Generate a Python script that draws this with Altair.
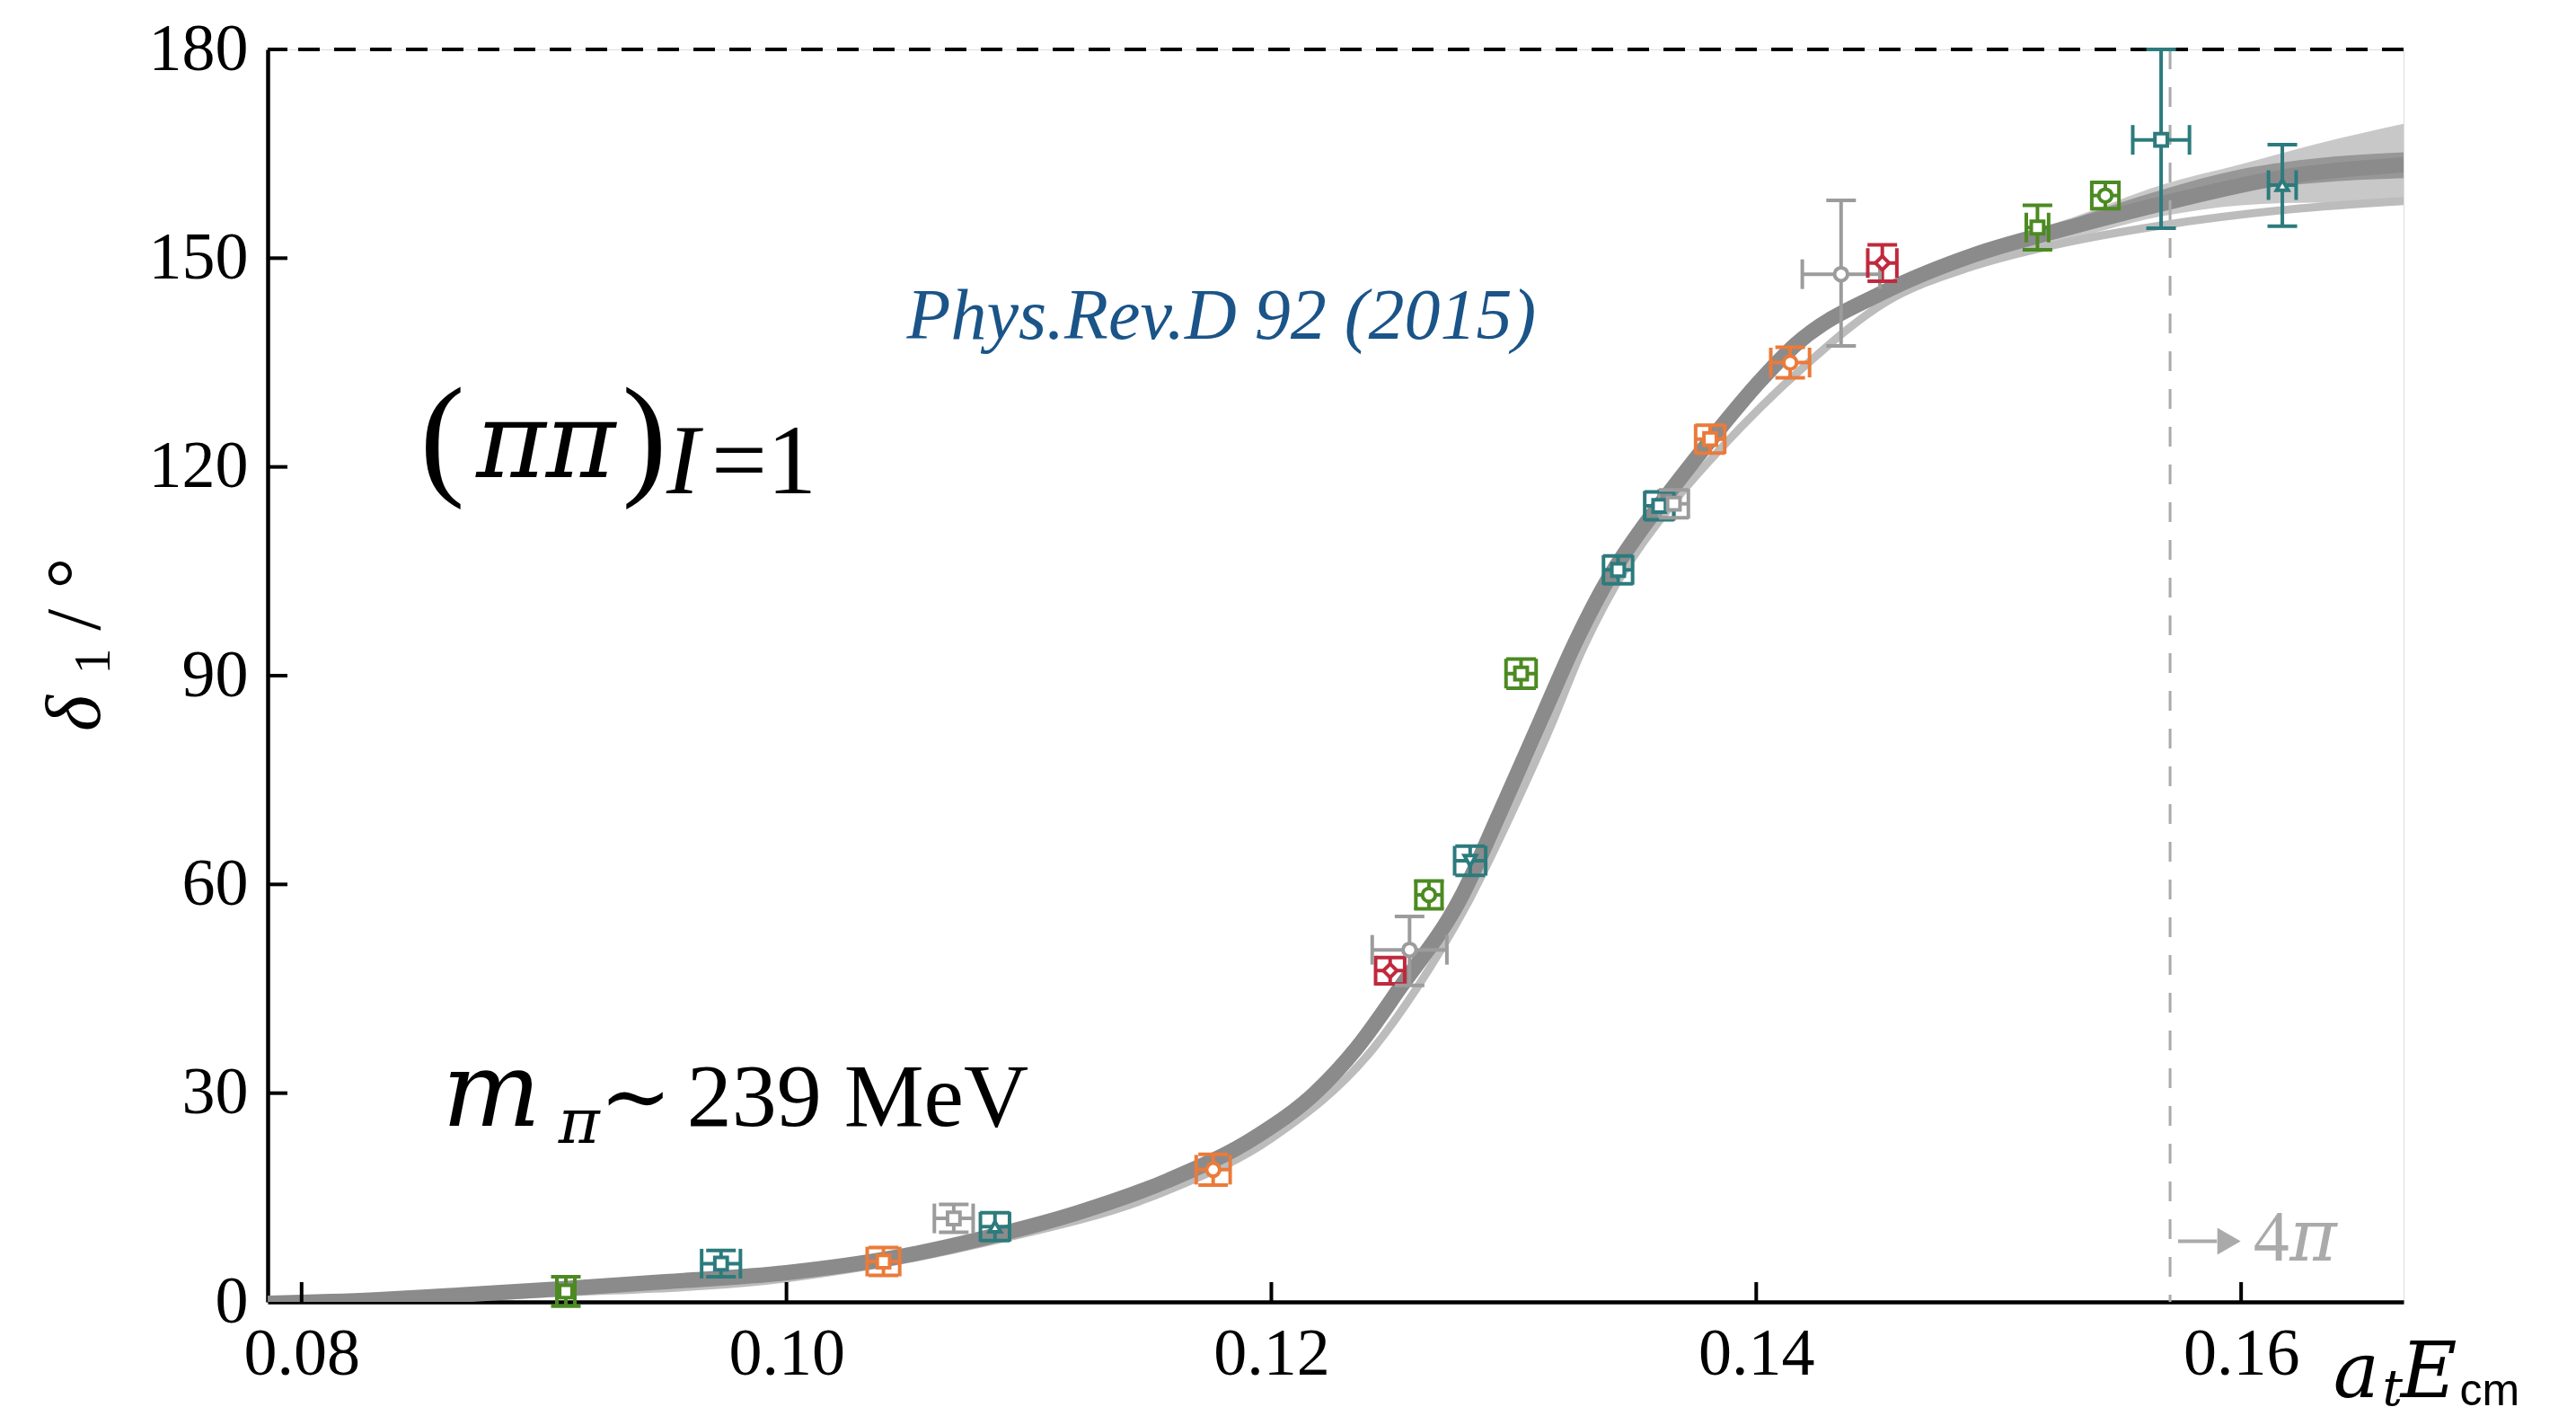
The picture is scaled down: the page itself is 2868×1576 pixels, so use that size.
import altair as alt
import pandas as pd

# ---------------- data ----------------
pt_x = [0.0909, 0.0973, 0.1040, 0.1069, 0.1086, 0.1176, 0.1249, 0.1257, 0.1265, 0.1282, 0.1303,
        0.1343, 0.1360, 0.1366, 0.1381, 0.1414, 0.1435, 0.1452, 0.1516, 0.1544, 0.1567, 0.1617]
pt_y = [1.5, 5.5, 5.8, 12.0, 10.8, 19.0, 47.6, 50.6, 58.5, 63.4, 90.3,
        105.2, 114.4, 114.7, 124.0, 135.0, 147.7, 149.3, 154.4, 159.0, 167.0, 160.5]
pt_xerr = [0.00037, 0.0008, 0.00067, 0.0008, 0.0006, 0.0007, 0.0006, 0.00154, 0.00054, 0.00064, 0.00062,
           0.0006, 0.0006, 0.0006, 0.0006, 0.0008, 0.0016, 0.0006, 0.00046, 0.00056, 0.00117, 0.00057]
pt_yerr_lo = [2.1, 1.9, 2.0, 2.0, 2.0, 2.2, 1.9, 5.1, 2.0, 2.1, 2.1,
              2.0, 2.0, 2.0, 2.0, 2.2, 10.3, 2.6, 3.2, 1.9, 12.7, 5.9]
pt_yerr_hi = [2.1, 1.9, 2.0, 2.0, 2.0, 2.2, 1.9, 4.8, 2.0, 2.1, 2.1,
              2.0, 2.0, 2.0, 2.0, 2.2, 10.6, 2.6, 3.2, 1.9, 13.0, 5.8]
pt_group = ["green", "teal", "orange", "gray", "teal", "orange", "red", "gray", "green", "teal", "green",
            "teal", "teal", "gray", "orange", "orange", "gray", "red", "green", "green", "teal", "teal"]
pt_shape = ["square", "square", "square", "square", "triangle-up", "circle", "diamond", "circle", "circle",
            "triangle-down", "square", "square", "square", "square", "square", "circle", "circle", "diamond",
            "square", "circle", "square", "triangle-up"]

fit_x = [0.0786, 0.0830, 0.0861, 0.0908, 0.0950, 0.1000, 0.1045, 0.1083, 0.1120, 0.1157, 0.1194, 0.1218,
         0.1235, 0.1253, 0.1278, 0.1295, 0.1311, 0.1325, 0.1338, 0.1353, 0.1363, 0.1381, 0.1402, 0.1416,
         0.1453, 0.1490, 0.1527, 0.1567, 0.1620, 0.1667]
fit_y = [-0.2, 0.3, 0.9, 1.9, 2.9, 4.2, 6.4, 9.3, 12.8, 17.4, 23.8, 30.0,
         36.4, 45.1, 58.0, 70.9, 83.5, 94.5, 103.3, 111.2, 115.8, 123.8, 132.5, 137.5,
         145.2, 150.5, 154.2, 157.8, 161.8, 163.4]

alt_x = [0.0786, 0.0900, 0.1000, 0.1083, 0.1157, 0.1200, 0.1242, 0.1260, 0.1282, 0.1300, 0.1315, 0.1328,
         0.1342, 0.1365, 0.1385, 0.1420, 0.1453, 0.1490, 0.1527, 0.1567, 0.1620, 0.1667]
alt_y = [-0.5, 1.2, 3.4, 8.6, 16.0, 23.5, 36.4, 45.1, 58.0, 70.9, 82.5, 93.5,
         103.0, 114.5, 122.5, 134.5, 143.6, 148.9, 152.2, 154.7, 157.0, 158.2]

fan_x = [0.1490, 0.1530, 0.1567, 0.1600, 0.1630, 0.1667]
fan_lo = [149.5, 152.8, 156.0, 157.6, 158.0, 157.8]
fan_hi = [151.6, 155.8, 160.5, 163.5, 166.3, 169.3]

core_x = [0.1530, 0.1567, 0.1600, 0.1630, 0.1667]
core_lo = [153.4, 156.8, 159.6, 160.8, 161.5]
core_hi = [155.6, 159.8, 162.8, 164.3, 165.2]

x_ticks = [0.08, 0.10, 0.12, 0.14, 0.16]
y_ticks = [0, 30, 60, 90, 120, 150, 180]
threshold_x = 0.15707

groups = ["green", "teal", "orange", "red", "gray"]
group_colors = ["#4c8a22", "#2c7b7d", "#ea7b3a", "#c0293d", "#9c9c9c"]
shape_sizes = {"square": 190, "circle": 210, "diamond": 230, "triangle-up": 170, "triangle-down": 170}

# ---------------- chart ----------------
W, H = 2378, 1394
SERIF = "Liberation Serif"
DSERIF = "DejaVu Serif"

xs = alt.Scale(domain=[0.0786, 0.1667], nice=False, zero=False)
ys = alt.Scale(domain=[0, 180], nice=False, zero=False)
xax = alt.Axis(values=x_ticks, format=".2f", title=None, ticks=False, tickSize=0, grid=False,
               domain=True, domainColor="black", domainWidth=4.5, labelFont=SERIF, labelFontSize=74,
               labelColor="black", labelPadding=22, labelFlush=False)
yax = alt.Axis(values=y_ticks, format="d", title=None, ticks=False, tickSize=0, grid=False,
               domain=True, domainColor="black", domainWidth=4.5, labelFont=SERIF, labelFontSize=74,
               labelColor="black", labelPadding=22, labelFlush=False)


def X(f):
    return alt.X(f"{f}:Q", scale=xs, axis=xax)


def Y(f):
    return alt.Y(f"{f}:Q", scale=ys, axis=yax)


cs = alt.Scale(domain=groups, range=group_colors)

pts = pd.DataFrame({"x": pt_x, "y": pt_y, "g": pt_group, "shape": pt_shape})
pts["xlo"] = [a - b for a, b in zip(pt_x, pt_xerr)]
pts["xhi"] = [a + b for a, b in zip(pt_x, pt_xerr)]
pts["ylo"] = [a - b for a, b in zip(pt_y, pt_yerr_lo)]
pts["yhi"] = [a + b for a, b in zip(pt_y, pt_yerr_hi)]
pts["sz"] = [shape_sizes[s] for s in pt_shape]

fit_df = pd.DataFrame({"x": fit_x, "y": fit_y})
alt_df = pd.DataFrame({"x": alt_x, "y": alt_y})
fan_df = pd.DataFrame({"x": fan_x, "lo": fan_lo, "hi": fan_hi})
core_df = pd.DataFrame({"x": core_x, "lo": core_lo, "hi": core_hi})

fan = alt.Chart(fan_df).mark_area(color="#c8c8c8", interpolate="monotone", clip=True).encode(
    x=X("x"), y=Y("lo"), y2="hi")
alt_line = alt.Chart(alt_df).mark_line(color="#bcbcbc", strokeWidth=9, interpolate="monotone",
                                       clip=True, strokeCap="butt").encode(x=X("x"), y=Y("y"))
core = alt.Chart(core_df).mark_area(color="#979797", interpolate="monotone", clip=True).encode(
    x=X("x"), y=Y("lo"), y2="hi")
fit_line = alt.Chart(fit_df).mark_line(color="#8b8b8b", strokeWidth=17, interpolate="monotone",
                                       clip=True, strokeCap="butt").encode(x=X("x"), y=Y("y"))

top_dash = alt.Chart(pd.DataFrame({"y": [180]})).mark_rule(
    color="black", strokeWidth=4, strokeDash=[24, 16]).encode(y=Y("y"))
thr = alt.Chart(pd.DataFrame({"x": [threshold_x]})).mark_rule(
    color="#aaaaaa", strokeWidth=3, strokeDash=[22, 20]).encode(x=X("x"))

col = alt.Color("g:N", scale=cs, legend=None)
SW = 4
hbar = alt.Chart(pts).mark_rule(strokeWidth=SW).encode(x=X("xlo"), x2="xhi", y=Y("y"), color=col)
vbar = alt.Chart(pts).mark_rule(strokeWidth=SW).encode(x=X("x"), y=Y("ylo"), y2="yhi", color=col)
CAP = 1089
capL = alt.Chart(pts).mark_point(shape="M0,-1L0,1", size=CAP, strokeWidth=SW, filled=False, opacity=1).encode(
    x=X("xlo"), y=Y("y"), color=col)
capR = alt.Chart(pts).mark_point(shape="M0,-1L0,1", size=CAP, strokeWidth=SW, filled=False, opacity=1).encode(
    x=X("xhi"), y=Y("y"), color=col)
capB = alt.Chart(pts).mark_point(shape="M-1,0L1,0", size=CAP, strokeWidth=SW, filled=False, opacity=1).encode(
    x=X("x"), y=Y("ylo"), color=col)
capT = alt.Chart(pts).mark_point(shape="M-1,0L1,0", size=CAP, strokeWidth=SW, filled=False, opacity=1).encode(
    x=X("x"), y=Y("yhi"), color=col)
markers = alt.Chart(pts).mark_point(filled=True, fill="white", fillOpacity=1, strokeWidth=SW, opacity=1).encode(
    x=X("x"), y=Y("y"), stroke=alt.Stroke("g:N", scale=cs, legend=None),
    shape=alt.Shape("shape:N", scale=None), size=alt.Size("sz:Q", scale=None))

# arrow "-> 4π" next to the threshold line
arrow_line = alt.Chart(pd.DataFrame({"x": [0.15740], "x2": [0.15900], "y": [8.7]})).mark_rule(
    color="#aaaaaa", strokeWidth=4).encode(x=X("x"), x2="x2", y=Y("y"))
arrow_head = alt.Chart(pd.DataFrame({"x": [0.15950], "y": [8.7]})).mark_point(
    shape="triangle-right", filled=True, color="#aaaaaa", size=900, opacity=1).encode(x=X("x"), y=Y("y"))


def txt(x, y, s, **mk):
    d = pd.DataFrame({"x": [x], "y": [y], "t": [s]})
    base = dict(align="left", baseline="alphabetic", color="black", font=SERIF)
    base.update(mk)
    return alt.Chart(d).mark_text(**base).encode(x=X("x"), y=Y("y"), text="t:N")


texts = [
    txt(0.16050, 5.9, "4", fontSize=80, color="#aaaaaa"),
    txt(0.16200, 5.9, "π", fontSize=80, color="#aaaaaa", fontStyle="italic", font=DSERIF),
    txt(0.10496, 138.4, "Phys.Rev.D 92 (2015)", fontSize=80, fontStyle="italic", color="#1a5488"),
    # (ππ)_{I=1}
    txt(0.08488, 118.0, "(", fontSize=150),
    txt(0.08720, 118.6, "ππ", fontSize=118, fontStyle="italic", font=DSERIF),
    txt(0.09322, 118.0, ")", fontSize=150),
    txt(0.09505, 116.2, "I", fontSize=110, fontStyle="italic"),
    txt(0.09690, 116.2, "=1", fontSize=110),
    # m_π ~ 239 MeV
    txt(0.08580, 25.3, "m", fontSize=116, fontStyle="italic", font=DSERIF),
    txt(0.09059, 22.9, "π", fontSize=70, fontStyle="italic", font=DSERIF),
    txt(0.09229, 25.3, "∼", fontSize=96, font=DSERIF),
    txt(0.09589, 25.3, "239 MeV", fontSize=100),
    # x-axis title a_t E_cm
    txt(0.16380, -13.7, "a", fontSize=86, fontStyle="italic", font=DSERIF),
    txt(0.16583, -14.9, "t", fontSize=56, fontStyle="italic", font=DSERIF),
    txt(0.16658, -13.7, "E", fontSize=86, fontStyle="italic", font=DSERIF),
    txt(0.16902, -14.9, "cm", fontSize=50, font="Liberation Sans"),
    # y-axis title δ_1 /°  (rotated)
    txt(0.07166, 82.0, "δ", fontSize=86, fontStyle="italic", angle=270),
    txt(0.07207, 90.2, "1", fontSize=58, angle=270),
    txt(0.07166, 96.5, "/", fontSize=86, angle=270),
    txt(0.07166, 102.5, "°", fontSize=86, angle=270),
]

ytick = alt.Chart(pd.DataFrame({"v": y_ticks[1:]})).mark_rule(color="black", strokeWidth=4).encode(
    y=Y("v"), x=alt.value(0), x2=alt.value(22))
xtick = alt.Chart(pd.DataFrame({"v": x_ticks})).mark_rule(color="black", strokeWidth=4).encode(
    x=X("v"), y=alt.value(H), y2=alt.value(H - 22))

chart = alt.layer(
    fan, alt_line, core, fit_line, top_dash, thr,
    hbar, vbar, capL, capR, capB, capT, markers,
    arrow_line, arrow_head, *texts, ytick, xtick
).properties(
    width=W, height=H, autosize="none",
    padding={"left": 298, "top": 55, "right": 192, "bottom": 127},
).configure_view(stroke=None).configure(background="white")

chart.save("out.html", embed_options={"renderer": "svg", "actions": False})
